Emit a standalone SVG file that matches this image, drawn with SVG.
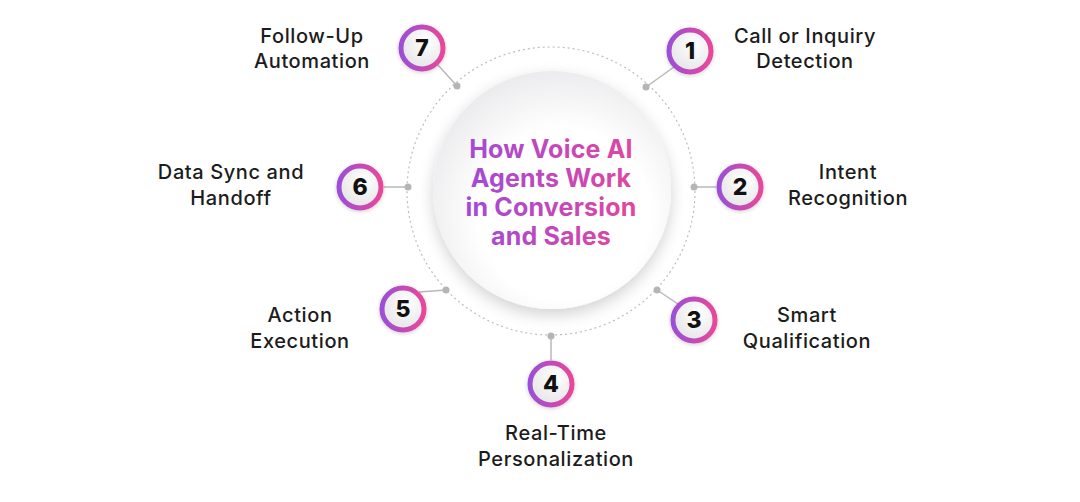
<svg xmlns="http://www.w3.org/2000/svg" width="1080" height="502" viewBox="0 0 1080 502">
<defs>
<linearGradient id="ring" x1="0" y1="0" x2="1" y2="0">
<stop offset="0" stop-color="#9c4fd6"/>
<stop offset="1" stop-color="#e8479a"/>
</linearGradient>
<linearGradient id="title" x1="0" y1="0" x2="1" y2="0">
<stop offset="0" stop-color="#a24ad6"/>
<stop offset="1" stop-color="#e0479f"/>
</linearGradient>
<radialGradient id="inner" cx="0.6" cy="0.35" r="0.7">
<stop offset="0" stop-color="#ffffff"/>
<stop offset="1" stop-color="#e4e4e6"/>
</radialGradient>
<radialGradient id="big" cx="0.55" cy="0.6" r="0.6">
<stop offset="0.6" stop-color="#ffffff"/>
<stop offset="1" stop-color="#ececee"/>
</radialGradient>
<filter id="sh" x="-30%" y="-30%" width="160%" height="160%">
<feGaussianBlur in="SourceAlpha" stdDeviation="8"/>
<feOffset dx="0" dy="6"/>
<feComponentTransfer><feFuncA type="linear" slope="0.18"/></feComponentTransfer>
<feMerge><feMergeNode/><feMergeNode in="SourceGraphic"/></feMerge>
</filter>
<filter id="bsh" x="-30%" y="-30%" width="160%" height="160%">
<feGaussianBlur in="SourceAlpha" stdDeviation="2"/>
<feOffset dx="0" dy="1"/>
<feComponentTransfer><feFuncA type="linear" slope="0.2"/></feComponentTransfer>
<feMerge><feMergeNode/><feMergeNode in="SourceGraphic"/></feMerge>
</filter>
</defs>
<style>
.lbl{font-family:Inter,"Open Sans",sans-serif;font-weight:500;font-size:20px;letter-spacing:0.6px;fill:#1c1c1c;text-anchor:middle}
.num{font-family:Inter,"Open Sans",sans-serif;font-weight:800;font-size:23px;fill:#111;text-anchor:middle}
.ttl{font-family:Inter,"Open Sans",sans-serif;font-weight:700;font-size:25px;letter-spacing:0.2px;text-anchor:middle}
.ring{fill:url(#inner);stroke:url(#ring);stroke-width:5}
.con{stroke:#b8b8b8;stroke-width:1.5;fill:none}
.dot{fill:#b5b5b5}
</style>
<rect width="1080" height="502" fill="#ffffff"/>
<g id="hub">
<circle cx="551" cy="191" r="144" fill="none" stroke="#bdbdbd" stroke-width="1.2" stroke-dasharray="2 3"/>
<circle cx="552" cy="190" r="119" fill="url(#big)" filter="url(#sh)"/>
<text class="ttl" fill="url(#title)"><tspan x="551" y="158">How Voice AI</tspan><tspan x="551" y="187">Agents Work</tspan><tspan x="551" y="216">in Conversion</tspan><tspan x="551" y="245">and Sales</tspan></text>
</g>
<g id="connectors">
<line class="con" x1="437" y1="64" x2="457" y2="86"/>
<line class="con" x1="674" y1="67" x2="646" y2="87"/>
<line class="con" x1="384" y1="187" x2="408" y2="187"/>
<line class="con" x1="716" y1="187" x2="694" y2="187"/>
<line class="con" x1="419" y1="292" x2="446" y2="290"/>
<line class="con" x1="678" y1="304" x2="657" y2="290"/>
<line class="con" x1="551" y1="360" x2="551" y2="336"/>
<circle class="dot" cx="457" cy="86" r="3.5"/>
<circle class="dot" cx="646" cy="87" r="3.5"/>
<circle class="dot" cx="408" cy="187" r="3.5"/>
<circle class="dot" cx="694" cy="187" r="3.5"/>
<circle class="dot" cx="446" cy="290" r="3.5"/>
<circle class="dot" cx="657" cy="290" r="3.5"/>
<circle class="dot" cx="551" cy="336" r="3.5"/>
</g>
<g id="step1">
<circle class="ring" cx="690" cy="51" r="21" filter="url(#bsh)"/>
<text class="num" x="690" y="59">1</text>
<text class="lbl"><tspan x="805" y="43">Call or Inquiry</tspan><tspan x="805" y="68">Detection</tspan></text>
</g>
<g id="step2">
<circle class="ring" cx="740" cy="187" r="21" filter="url(#bsh)"/>
<text class="num" x="740" y="195">2</text>
<text class="lbl"><tspan x="848" y="179">Intent</tspan><tspan x="848" y="205">Recognition</tspan></text>
</g>
<g id="step3">
<circle class="ring" cx="694" cy="320" r="21" filter="url(#bsh)"/>
<text class="num" x="694" y="328">3</text>
<text class="lbl"><tspan x="807" y="322">Smart</tspan><tspan x="807" y="348">Qualification</tspan></text>
</g>
<g id="step4">
<circle class="ring" cx="551" cy="384" r="21" filter="url(#bsh)"/>
<text class="num" x="551" y="392">4</text>
<text class="lbl"><tspan x="556" y="440">Real-Time</tspan><tspan x="556" y="466">Personalization</tspan></text>
</g>
<g id="step5">
<circle class="ring" cx="403" cy="309" r="21" filter="url(#bsh)"/>
<text class="num" x="403" y="317">5</text>
<text class="lbl"><tspan x="300" y="322">Action</tspan><tspan x="300" y="348">Execution</tspan></text>
</g>
<g id="step6">
<circle class="ring" cx="360" cy="187" r="21" filter="url(#bsh)"/>
<text class="num" x="360" y="195">6</text>
<text class="lbl"><tspan x="231" y="179">Data Sync and</tspan><tspan x="231" y="205">Handoff</tspan></text>
</g>
<g id="step7">
<circle class="ring" cx="422" cy="48" r="21" filter="url(#bsh)"/>
<text class="num" x="422" y="56">7</text>
<text class="lbl"><tspan x="312" y="43">Follow-Up</tspan><tspan x="312" y="68">Automation</tspan></text>
</g>
</svg>
